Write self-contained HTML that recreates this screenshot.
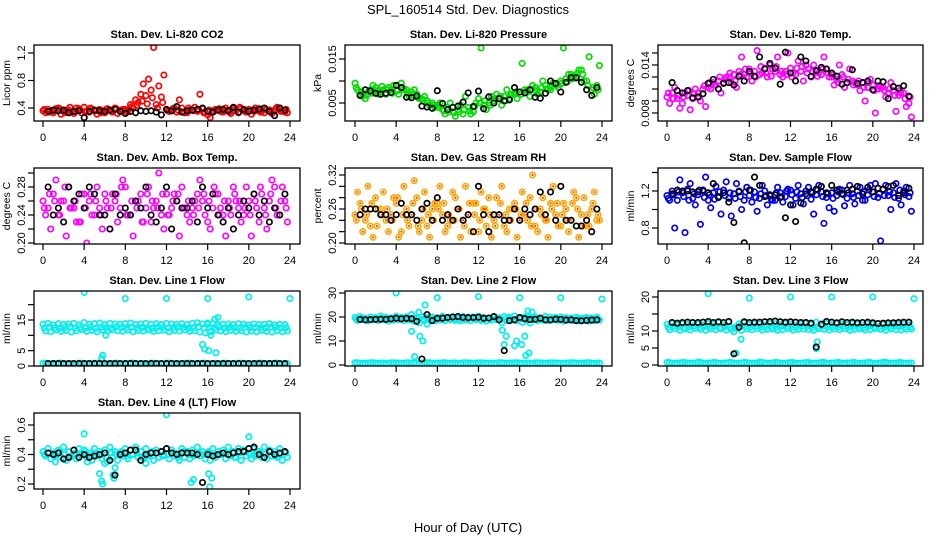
<!DOCTYPE html>
<html><head><meta charset="utf-8">
<style>
html,body{margin:0;padding:0;background:#fff;}
svg{display:block;font-family:"Liberation Sans",Arial,sans-serif;}
</style></head>
<body>
<svg id="chart" width="936" height="540" viewBox="0 0 936 540" xmlns="http://www.w3.org/2000/svg">
<rect x="0" y="0" width="936" height="540" fill="#fff"/>
<text x="468" y="14" text-anchor="middle" font-size="13">SPL_160514  Std. Dev. Diagnostics</text>
<text x="468" y="532" text-anchor="middle" font-size="13">Hour of Day (UTC)</text>
</svg>
<script>
// ---- data (colored A at t=i*0.5, B at +0.25, C at +0.125, L = low band, K black at t=(i+1)*0.5) ----
const xTicks=[0,4,8,12,16,20,24];
const co2A=[.36,.38,.33,.40,.35,.37,.32,.39,.41,.34,.36,.38,.33,.37,.40,.35,.38,.45,.52,.60,.58,.66,.45,.56,.38,.36,.34,.40,.33,.37,.35,.39,.30,.36,.38,.34,.37,.40,.33,.36,.38,.35,.39,.33,.37,.36,.40,.34];
const co2B=[.33,.35,.39,.31,.37,.34,.40,.33,.36,.38,.31,.35,.39,.34,.32,.38,.36,.40,.48,.75,.82,1.28,.72,.88,.35,.40,.52,.33,.37,.41,.60,.34,.26,.38,.35,.40,.32,.36,.39,.34,.31,.37,.35,.38,.32,.41,.36,.33];
const co2C=[.38,.34,.36,.39,.33,.41,.35,.37,.34,.40,.36,.33,.38,.35,.39,.37,.34,.42,.44,.50,.46,.55,.40,.48,.36,.39,.37,.34,.40,.36,.38,.33,.37,.35,.39,.36,.34,.38,.41,.35,.37,.40,.34,.38,.36,.39,.35,.38];
const co2K=[.35,.37,.36,.37,.33,.35,.36,.26,.35,.37,.36,.35,.37,.38,.35,.32,.35,.33,.36,.35,.36,.34,.30,.38,.36,.42,.34,.36,.37,.38,.40,.35,.34,.37,.38,.36,.41,.34,.38,.35,.37,.38,.40,.35,.29,.40,.37];
const presA=[.0095,.0070,.0060,.0080,.0085,.0075,.0070,.0080,.0090,.0095,.0080,.0075,.0070,.0060,.0055,.0050,.0045,.0035,.0040,.0030,.0035,.0025,.0040,.0030,.0060,.0045,.0050,.0055,.0060,.0065,.0060,.0070,.0075,.0080,.0065,.0085,.0075,.0090,.0080,.0095,.0100,.0105,.0115,.0110,.0125,.0100,.0080,.0090];
const presB=[.0080,.0065,.0075,.0090,.0070,.0080,.0085,.0090,.0070,.0080,.0065,.0080,.0060,.0065,.0045,.0040,.0050,.0025,.0050,.0020,.0045,.0065,.0025,.0050,.0175,.0035,.0065,.0070,.0045,.0080,.0070,.0060,.0140,.0080,.0090,.0070,.0100,.0080,.0095,.0085,.0175,.0115,.0110,.0125,.0100,.0155,.0070,.0135];
const presC=[.0085,.0075,.0068,.0072,.0078,.0088,.0080,.0072,.0078,.0085,.0072,.0068,.0062,.0055,.0050,.0045,.0040,.0032,.0030,.0028,.0030,.0035,.0032,.0042,.0050,.0055,.0045,.0060,.0065,.0055,.0068,.0075,.0070,.0075,.0080,.0078,.0085,.0082,.0088,.0090,.0095,.0098,.0105,.0118,.0115,.0090,.0085,.0080];
const presK=[.0067,.0080,.0077,.0072,.0070,.0072,.0074,.0090,.0085,.0063,.0062,.0066,.0043,.0041,.0038,.0078,.0049,.0035,.0040,.0043,.0052,.0073,.0042,.0077,.0037,.0064,.0050,.0060,.0055,.0057,.0085,.0075,.0073,.0080,.0063,.0061,.0072,.0100,.0094,.0075,.0097,.0108,.0107,.0097,.0080,.0067,.0085];
const tempA=[.0100,.0105,.0098,.0092,.0102,.0098,.0105,.0110,.0112,.0118,.0120,.0118,.0125,.0128,.0132,.0128,.0135,.0132,.0128,.0136,.0140,.0132,.0128,.0132,.0136,.0128,.0132,.0140,.0125,.0132,.0128,.0135,.0125,.0122,.0128,.0118,.0120,.0115,.0118,.0112,.0115,.0110,.0112,.0105,.0108,.0102,.0105,.0092];
const tempB=[.0092,.0112,.0086,.0105,.0084,.0110,.0095,.0088,.0110,.0115,.0105,.0125,.0118,.0112,.0150,.0125,.0120,.0158,.0130,.0125,.0135,.0150,.0125,.0155,.0130,.0145,.0120,.0135,.0140,.0130,.0150,.0125,.0115,.0140,.0112,.0135,.0118,.0108,.0095,.0122,.0080,.0112,.0100,.0118,.0082,.0105,.0088,.0075];
const tempC=[.0105,.0098,.0102,.0100,.0108,.0104,.0100,.0114,.0118,.0115,.0125,.0122,.0130,.0120,.0128,.0135,.0130,.0125,.0138,.0130,.0126,.0138,.0132,.0128,.0125,.0136,.0138,.0130,.0132,.0126,.0135,.0130,.0128,.0118,.0125,.0122,.0115,.0120,.0112,.0118,.0108,.0114,.0108,.0110,.0102,.0108,.0098,.0100];
const tempK=[.0118,.0108,.0105,.0108,.0099,.0100,.0104,.0117,.0122,.0110,.0117,.0118,.0115,.0126,.0120,.0132,.0126,.0150,.0135,.0142,.0136,.0116,.0156,.0130,.0120,.0150,.0145,.0126,.0133,.0137,.0135,.0130,.0126,.0116,.0118,.0134,.0117,.0118,.0120,.0109,.0120,.0119,.0098,.0113,.0111,.0114,.0101];
const ambA=[.26,.25,.27,.24,.26,.28,.25,.23,.27,.26,.24,.25,.27,.22,.26,.25,.28,.24,.26,.27,.25,.23,.26,.24,.27,.25,.26,.28,.24,.25,.27,.26,.23,.25,.27,.24,.26,.28,.25,.24,.26,.27,.23,.25,.26,.28,.24,.26];
const ambB=[.24,.22,.29,.26,.21,.25,.23,.27,.20,.24,.28,.22,.25,.27,.23,.29,.24,.21,.26,.23,.28,.25,.30,.22,.24,.27,.21,.25,.23,.26,.29,.24,.22,.27,.25,.21,.24,.26,.23,.28,.21,.25,.27,.22,.29,.24,.28,.23];
const ambC=[.25,.27,.26,.24,.28,.25,.26,.23,.25,.27,.26,.24,.26,.25,.27,.28,.24,.26,.25,.23,.27,.26,.25,.27,.24,.26,.27,.25,.26,.24,.25,.27,.26,.28,.24,.26,.25,.27,.26,.25,.24,.26,.28,.24,.27,.25,.26,.25];
const ambK=[.28,.24,.25,.23,.28,.26,.27,.25,.28,.27,.24,.24,.22,.27,.24,.25,.24,.26,.25,.28,.24,.23,.25,.28,.22,.26,.25,.25,.26,.23,.28,.25,.27,.24,.23,.25,.22,.24,.26,.25,.27,.24,.26,.23,.25,.24,.27];
const rhA=[.25,.27,.24,.23,.28,.26,.24,.25,.27,.22,.26,.25,.28,.24,.23,.26,.27,.25,.23,.29,.26,.24,.25,.27,.22,.26,.28,.24,.25,.23,.26,.27,.24,.25,.28,.23,.26,.24,.27,.25,.23,.26,.24,.28,.25,.23,.26,.24];
const rhB=[.29,.22,.30,.21,.26,.29,.22,.28,.21,.30,.23,.31,.22,.29,.21,.27,.30,.22,.24,.28,.21,.30,.22,.27,.29,.23,.21,.28,.30,.22,.26,.21,.29,.24,.32,.22,.28,.21,.30,.23,.27,.22,.29,.21,.28,.23,.29,.24];
const rhC=[.24,.26,.25,.27,.23,.25,.26,.24,.28,.25,.24,.27,.23,.26,.25,.24,.26,.27,.25,.24,.26,.23,.27,.25,.24,.26,.25,.23,.27,.25,.24,.26,.25,.27,.23,.26,.25,.24,.26,.27,.25,.24,.27,.26,.23,.25,.27,.25];
const rhK=[.25,.26,.26,.26,.25,.25,.24,.25,.27,.25,.25,.24,.26,.27,.24,.28,.24,.25,.24,.26,.24,.25,.22,.30,.25,.22,.25,.25,.24,.24,.26,.24,.26,.25,.26,.29,.25,.29,.24,.30,.24,.24,.23,.23,.24,.22,.26];
const sfA=[1.15,1.20,1.10,1.18,1.22,1.12,1.16,1.20,1.10,1.18,1.14,1.21,1.12,1.17,1.20,1.10,1.15,1.19,1.12,1.20,1.16,1.10,1.18,1.14,1.21,1.12,1.17,1.20,1.11,1.16,1.19,1.13,1.18,1.15,1.21,1.12,1.17,1.20,1.10,1.16,1.19,1.13,1.22,1.15,1.18,1.12,1.20,1.14];
const sfB=[1.10,0.80,1.32,0.75,1.28,1.05,0.84,1.35,1.02,1.25,0.95,1.30,0.93,1.28,1.00,1.24,1.08,0.98,1.26,1.05,1.10,1.24,1.08,1.22,1.05,1.26,1.06,1.24,0.95,1.26,0.85,1.02,0.98,1.22,1.04,1.26,1.06,1.24,1.10,1.26,1.28,0.66,1.26,1.00,1.28,1.05,1.24,0.98];
const sfC=[1.12,1.16,1.19,1.14,1.10,1.17,1.21,1.13,1.16,1.11,1.19,1.15,1.18,1.12,1.14,1.19,1.21,1.13,1.17,1.15,1.11,1.18,1.14,1.20,1.16,1.19,1.13,1.15,1.18,1.21,1.14,1.17,1.12,1.19,1.16,1.18,1.13,1.15,1.19,1.21,1.14,1.17,1.15,1.19,1.13,1.21,1.16,1.18];
const sfK=[1.17,1.21,1.20,1.20,1.19,1.19,1.21,1.18,1.28,1.13,1.18,1.08,0.86,1.19,0.64,1.21,1.35,1.26,1.14,1.15,1.16,1.13,0.91,1.05,0.87,1.07,1.17,1.19,1.22,1.25,1.18,1.26,1.21,1.17,1.21,1.22,1.25,1.17,1.24,1.19,1.23,1.22,1.25,1.26,1.15,1.18,1.23];
const l1A=[13.6,13.9,13.4,13.8,13.5,13.7,13.9,13.4,14.2,13.6,13.8,14.0,13.5,13.9,13.7,13.6,13.8,14.0,13.5,13.7,13.9,13.6,13.8,13.5,13.9,13.7,13.6,13.8,13.5,13.9,14.1,13.7,13.6,13.8,13.4,13.6,13.7,13.5,13.8,13.6,13.4,13.7,13.5,13.6,13.8,13.4,13.6,13.5];
const l1B=[11.4,11.2,11.8,11.3,11.6,11.1,11.5,11.9,11.3,11.6,11.2,11.7,11.4,11.8,11.5,11.3,11.7,11.2,11.6,11.4,11.8,11.3,11.5,11.7,11.2,11.6,11.4,11.8,11.3,11.5,11.1,10.8,11.2,11.7,11.4,11.2,11.6,11.3,11.5,11.1,11.4,11.2,11.6,11.3,11.1,11.5,11.2,11.4];
const l1C=[12.4,12.7,12.5,12.3,12.6,12.8,12.4,12.6,12.5,12.7,12.3,12.6,12.5,12.4,12.8,12.6,12.5,12.7,12.4,12.6,12.5,12.3,12.7,12.6,12.4,12.5,12.7,12.6,12.3,12.5,12.8,12.4,12.6,12.5,12.7,12.4,12.6,12.5,12.3,12.7,12.5,12.6,12.4,12.5,12.7,12.6,12.4,12.5];
const l1L=[0.9,0.7,0.8,0.9,0.7,0.8,0.6,0.9,0.8,0.7,0.9,0.8,0.7,0.8,0.9,0.7,0.8,0.9,0.7,0.8,0.6,0.9,0.8,0.7,0.9,0.8,0.7,0.8,0.9,0.7,0.8,0.9,0.7,0.8,0.6,0.9,0.8,0.7,0.9,0.8,0.7,0.8,0.9,0.7,0.8,0.9,0.7,0.8];
const l1K=[0.8,0.8,0.8,0.8,0.8,0.8,0.8,0.8,0.8,0.8,0.8,0.8,0.8,0.8,0.8,0.8,0.8,0.8,0.8,0.8,0.8,0.8,0.8,0.8,0.8,0.8,0.8,0.8,0.8,0.8,0.8,0.8,0.8,0.8,0.8,0.8,0.8,0.8,0.8,0.8,0.8,0.8,0.8,0.8,0.8,0.8,0.8];
const l1OutT=[4,8,12,16,20,24,5.8,5.7,15.5,15.7,16.1,16.8,17,16.7,16.3,6.1,16];
const l1OutV=[24,22,22,22,22.5,22,3.5,2.5,7,5.5,5,4.3,15.8,15.3,10,10,14];
const l2A=[19.8,20.2,19.5,20.0,19.7,20.4,19.9,19.6,20.3,19.8,20.1,21.0,19.7,20.2,19.9,20.0,19.6,20.3,19.8,20.1,19.7,20.2,19.9,20.0,20.3,19.8,19.6,20.1,19.7,20.2,19.9,20.4,19.8,20.0,19.7,20.1,19.6,20.2,19.9,19.8,20.0,19.7,19.6,19.9,19.5,19.8,19.6,19.9];
const l2B=[18.6,18.9,18.4,18.8,18.5,18.9,18.3,18.7,19.0,18.5,18.8,18.2,17.5,18.6,18.9,18.4,18.8,18.5,18.9,18.6,18.4,18.8,18.5,18.9,18.6,18.3,18.7,18.9,17.6,18.5,18.8,18.4,17.8,18.6,18.9,18.5,18.7,18.4,18.8,18.6,18.3,18.7,18.5,18.4,18.6,18.3,18.5,18.7];
const l2C=[19.1,19.4,19.2,19.0,19.3,19.5,19.1,19.3,19.2,19.4,19.0,19.3,19.2,19.1,19.5,19.3,19.2,19.4,19.1,19.3,19.2,19.0,19.4,19.3,19.1,19.2,19.4,19.3,19.0,19.2,19.5,19.1,19.3,19.2,19.4,19.1,19.3,19.2,19.0,19.4,19.2,19.3,19.1,19.2,19.4,19.3,19.1,19.2];
const l2L=[0.9,0.7,0.8,0.9,0.7,0.8,0.6,0.9,0.8,0.7,0.9,0.8,0.7,0.8,0.9,0.7,0.8,0.9,0.7,0.8,0.6,0.9,0.8,0.7,0.9,0.8,0.7,0.8,0.9,0.7,0.8,0.9,0.7,0.8,0.6,0.9,0.8,0.7,0.9,0.8,0.7,0.8,0.9,0.7,0.8,0.9,0.7,0.8];
const l2K=[19,18.8,18.9,19,19.1,19,19.2,19.5,19.2,19.4,19.3,18.2,2.5,21,18.5,19.5,19.5,19.8,20,20.2,19.8,19.7,19.8,19.9,19.5,19.6,20.2,18.8,6,18.5,18.8,19.8,19.3,18.9,19.1,19.5,18.8,18.8,19.1,19,18.7,18.8,18.5,18.4,18.6,18.7,18.8];
const l2OutT=[4,8,12,16,20,24,5.5,5.8,6.3,6.6,6.8,7,7.2,6.2,14.3,14.5,14.7,15.5,15.7,16.2,16.5,16.6,16.9,17.0,16.8,17.2];
const l2OutV=[30,28,28.5,28,28,27.5,14,3.5,12,10,25,17,19,22,14.5,8.5,12,8,10,8.5,12,4,5,17.5,22.5,22];
const l3A=[12.0,12.3,11.8,12.1,11.9,12.4,12.0,11.7,12.2,12.0,12.5,11.8,12.6,9.8,12.1,12.4,11.9,12.2,12.0,11.8,12.3,12.1,11.9,12.2,12.0,11.7,12.1,12.3,11.9,12.6,12.0,12.2,11.8,12.1,12.0,11.9,12.2,12.0,11.8,12.1,11.9,12.2,12.0,11.8,12.1,11.9,12.0,11.8];
const l3B=[10.4,10.7,10.2,10.6,10.3,10.8,10.5,10.2,10.6,10.4,10.7,10.3,10.5,10.8,10.2,10.6,10.4,10.7,10.3,10.5,10.6,10.2,10.4,10.7,10.3,10.5,10.6,10.4,10.2,10.7,10.5,10.3,10.6,10.4,10.7,10.2,10.5,10.6,10.3,10.4,10.7,10.5,10.2,10.6,10.4,10.3,10.5,10.6];
const l3C=[11.1,11.4,11.2,11.0,11.3,11.5,11.1,11.3,11.2,11.4,11.0,11.3,11.2,11.1,11.5,11.3,11.2,11.4,11.1,11.3,11.2,11.0,11.4,11.3,11.1,11.2,11.4,11.3,11.0,11.2,11.5,11.1,11.3,11.2,11.4,11.1,11.3,11.2,11.0,11.4,11.2,11.3,11.1,11.2,11.4,11.3,11.1,11.2];
const l3L=[0.7,0.5,0.6,0.7,0.5,0.6,0.8,0.5,0.6,0.7,0.5,0.6,0.7,0.5,0.6,0.7,0.5,0.6,0.8,0.5,0.6,0.7,0.5,0.6,0.7,0.5,0.6,0.7,0.5,0.6,0.8,0.5,0.6,0.7,0.5,0.6,0.7,0.5,0.6,0.7,0.5,0.6,0.8,0.5,0.6,0.7,0.5,0.6];
const l3K=[12.5,12.3,12.5,12.6,12.5,12.5,12.6,12.8,12.5,12.7,12.5,12.8,3.3,11.1,12.7,12.5,12.6,12.6,12.7,12.8,12.9,12.7,12.6,12.7,12.6,12.5,12.5,12.3,5.3,12,12.8,12.6,12.4,12.7,12.5,12.6,12.4,12.5,12.6,12.4,12.2,12.3,12.4,12.4,12.5,12.6,12.6];
const l3OutT=[4,8,12,16,20,24,7.2,14.5,14.6,6.7];
const l3OutV=[21,19.7,20,20,20,19.5,7.6,4.8,6.8,3.5];
const l4A=[.42,.44,.41,.43,.45,.42,.40,.44,.43,.41,.44,.42,.43,.45,.42,.41,.44,.43,.45,.42,.44,.41,.43,.42,.44,.43,.41,.44,.42,.43,.45,.42,.41,.44,.42,.43,.45,.42,.44,.43,.41,.44,.42,.45,.43,.42,.44,.42];
const l4B=[.39,.37,.40,.38,.36,.39,.37,.40,.38,.36,.39,.37,.35,.38,.36,.39,.37,.40,.38,.37,.39,.36,.38,.40,.37,.39,.36,.38,.37,.40,.39,.37,.36,.38,.40,.37,.39,.38,.36,.39,.37,.40,.38,.37,.39,.38,.36,.38];
const l4C=[.40,.41,.39,.42,.40,.38,.41,.40,.42,.39,.41,.40,.38,.41,.40,.42,.39,.40,.41,.38,.40,.42,.41,.39,.40,.41,.38,.42,.40,.39,.41,.40,.42,.39,.40,.41,.40,.38,.41,.42,.40,.39,.41,.40,.42,.39,.40,.41];
const l4K=[.41,.40,.41,.37,.38,.43,.38,.40,.38,.39,.40,.41,.36,.26,.40,.41,.43,.43,.36,.40,.41,.41,.42,.44,.41,.40,.41,.41,.41,.40,.21,.40,.39,.40,.41,.40,.41,.42,.42,.44,.45,.40,.38,.42,.40,.41,.42];
const l4OutT=[4,12,20,5.5,5.7,5.8,6.8,6.9,7.0,14.4,14.6,16.1,16.2,16.4,1.2,4.3,6,10];
const l4OutV=[.54,.67,.52,.27,.22,.20,.26,.24,.31,.21,.23,.27,.18,.24,.35,.35,.34,.34];

// ---- layout ----
const svg=document.getElementById('chart');
const NS='http://www.w3.org/2000/svg';
const colX=[[34,300,43,290],[345,612,355,602],[658,923,667,914]];
const rowY=[[45,121],[168,244],[291,366],[413,489]];
function el(tag,attrs,parent){const e=document.createElementNS(NS,tag);for(const k in attrs)e.setAttribute(k,attrs[k]);(parent||svg).appendChild(e);return e;}

const panels=[
 {key:'co2',title:'Stan. Dev. Li-820 CO2',ylab:'Licor ppm',col:0,row:0,color:'#ff0000',y0:0.4,p0:108,y1:1.2,p1:53,ticks:[0.4,0.8,1.2],labels:['0.4','0.8','1.2'],A:co2A,B:co2B,C:co2C,K:co2K},
 {key:'pressure',title:'Stan. Dev. Li-820 Pressure',ylab:'kPa',col:1,row:0,color:'#00dd00',y0:0.005,p0:103,y1:0.015,p1:59,ticks:[0.005,0.010,0.015],labels:['0.005','','0.015'],A:presA,B:presB,C:presC,K:presK},
 {key:'temp',title:'Stan. Dev. Li-820 Temp.',ylab:'degrees C',col:2,row:0,color:'#ff00ff',y0:0.008,p0:113,y1:0.014,p1:65,ticks:[0.008,0.0095,0.011,0.0125,0.014,0.0155],labels:['0.008','','','','0.014',''],A:tempA,B:tempB,C:tempC,K:tempK},
 {key:'amb',title:'Stan. Dev. Amb. Box Temp.',ylab:'degrees C',col:0,row:1,color:'#ff00ff',y0:0.20,p0:243,y1:0.28,p1:187,ticks:[0.20,0.22,0.24,0.26,0.28,0.30],labels:['0.20','','0.24','','0.28',''],A:ambA,B:ambB,C:ambC,K:ambK},
 {key:'rh',title:'Stan. Dev. Gas Stream RH',ylab:'percent',col:1,row:1,color:'#ffaa00',inner:'#ff2200',y0:0.20,p0:243,y1:0.32,p1:175,ticks:[0.20,0.22,0.24,0.26,0.28,0.30,0.32],labels:['0.20','','','0.26','','','0.32'],A:rhA,B:rhB,C:rhC,K:rhK},
 {key:'sample',title:'Stan. Dev. Sample Flow',ylab:'ml/min',col:2,row:1,color:'#0000ee',y0:0.8,p0:228,y1:1.2,p1:191,ticks:[0.8,1.0,1.2,1.4],labels:['0.8','','1.2',''],A:sfA,B:sfB,C:sfC,K:sfK},
 {key:'line1',title:'Stan. Dev. Line 1 Flow',ylab:'ml/min',col:0,row:2,color:'#00eeee',y0:0,p0:366,y1:15,p1:320,ticks:[0,5,10,15,20],labels:['0','5','','15',''],A:l1A,B:l1B,C:l1C,L:l1L,K:l1K,OT:l1OutT,OV:l1OutV},
 {key:'line2',title:'Stan. Dev. Line 2 Flow',ylab:'ml/min',col:1,row:2,color:'#00eeee',y0:0,p0:365,y1:30,p1:293,ticks:[0,10,20,30],labels:['0','10','20','30'],A:l2A,B:l2B,C:l2C,L:l2L,K:l2K,OT:l2OutT,OV:l2OutV},
 {key:'line3',title:'Stan. Dev. Line 3 Flow',ylab:'ml/min',col:2,row:2,color:'#00eeee',y0:0,p0:365,y1:20,p1:297,ticks:[0,5,10,15,20],labels:['0','5','10','','20'],A:l3A,B:l3B,C:l3C,L:l3L,K:l3K,OT:l3OutT,OV:l3OutV},
 {key:'line4',title:'Stan. Dev. Line 4 (LT) Flow',ylab:'ml/min',col:0,row:3,color:'#00eeee',y0:0.2,p0:484,y1:0.6,p1:425,ticks:[0.2,0.3,0.4,0.5,0.6],labels:['0.2','','0.4','','0.6'],A:l4A,B:l4B,C:l4C,K:l4K,OT:l4OutT,OV:l4OutV}
];

function pt(g,x,y,c,name,inner){
  const e=el('circle',{cx:x.toFixed(1),cy:y.toFixed(1),r:2.7,fill:'none',stroke:c,'stroke-width':1.7},g);
  
  
  if(inner){el('circle',{cx:x.toFixed(1),cy:y.toFixed(1),r:1,fill:inner},g);}
}

panels.forEach(p=>{
  const [bl,br,x0p,x24p]=colX[p.col];
  const [bt,bb]=rowY[p.row];
  const xs=t=>x0p+(t/24)*(x24p-x0p);
  const ys=v=>p.p0+(v-p.y0)/(p.y1-p.y0)*(p.p1-p.p0);
  const g=el('g',{});
  
  
  const cp=el('clipPath',{id:'clip-'+p.key},g);
  el('rect',{x:bl,y:bt,width:br-bl,height:bb-bt},cp);
  const marks=el('g',{'clip-path':'url(#clip-'+p.key+')'},g);
  
  
  const c=p.color, inn=p.inner;
  p.A.forEach((v,i)=>pt(marks,xs(i*0.5),ys(v),c,'point-'+p.key,inn));
  p.B.forEach((v,i)=>pt(marks,xs(i*0.5+0.25),ys(v),c,'point-'+p.key,inn));
  p.C.forEach((v,i)=>pt(marks,xs(i*0.5+0.125),ys(v),c,'point-'+p.key,inn));
  if(p.L){p.L.forEach((v,i)=>{pt(marks,xs(i*0.5),ys(v),c,'point-'+p.key);pt(marks,xs(i*0.5+0.25),ys(v),c,'point-'+p.key);});}
  if(p.OT){p.OT.forEach((t,i)=>pt(marks,xs(t),ys(p.OV[i]),c,'outlier-'+p.key));}
  p.K.forEach((v,i)=>pt(marks,xs((i+1)*0.5),ys(v),'#000','hourly-point-'+p.key));
  const box=el('rect',{x:bl,y:bt,width:br-bl,height:bb-bt,fill:'none',stroke:'#000','stroke-width':1.3},g);
  
  
  xTicks.forEach(t=>{
    el('line',{x1:xs(t),x2:xs(t),y1:bb,y2:bb+6,stroke:'#000','stroke-width':1.2},g);
    const tx=el('text',{x:xs(t),y:bb+20,'text-anchor':'middle','font-size':11},g);
    tx.textContent=t;
    
    
  });
  p.ticks.forEach((v,i)=>{
    const y=ys(v);
    el('line',{x1:bl-6,x2:bl,y1:y,y2:y,stroke:'#000','stroke-width':1.2},g);
    if(p.labels[i]){
      const tx=el('text',{x:bl-9,y:y,'text-anchor':'middle','font-size':11,transform:'rotate(-90 '+(bl-9)+' '+y+')'},g);
      tx.textContent=p.labels[i];
      
      
    }
  });
  const my=(bt+bb)/2;
  const yl=el('text',{x:bl-24,y:my,'text-anchor':'middle','font-size':10.5,transform:'rotate(-90 '+(bl-24)+' '+my+')'},g);
  yl.textContent=p.ylab;
  
  
  const ti=el('text',{x:(bl+br)/2,y:bt-7,'text-anchor':'middle','font-size':11,'font-weight':'bold'},g);
  ti.textContent=p.title;
  
  
});
</script>
</body></html>
